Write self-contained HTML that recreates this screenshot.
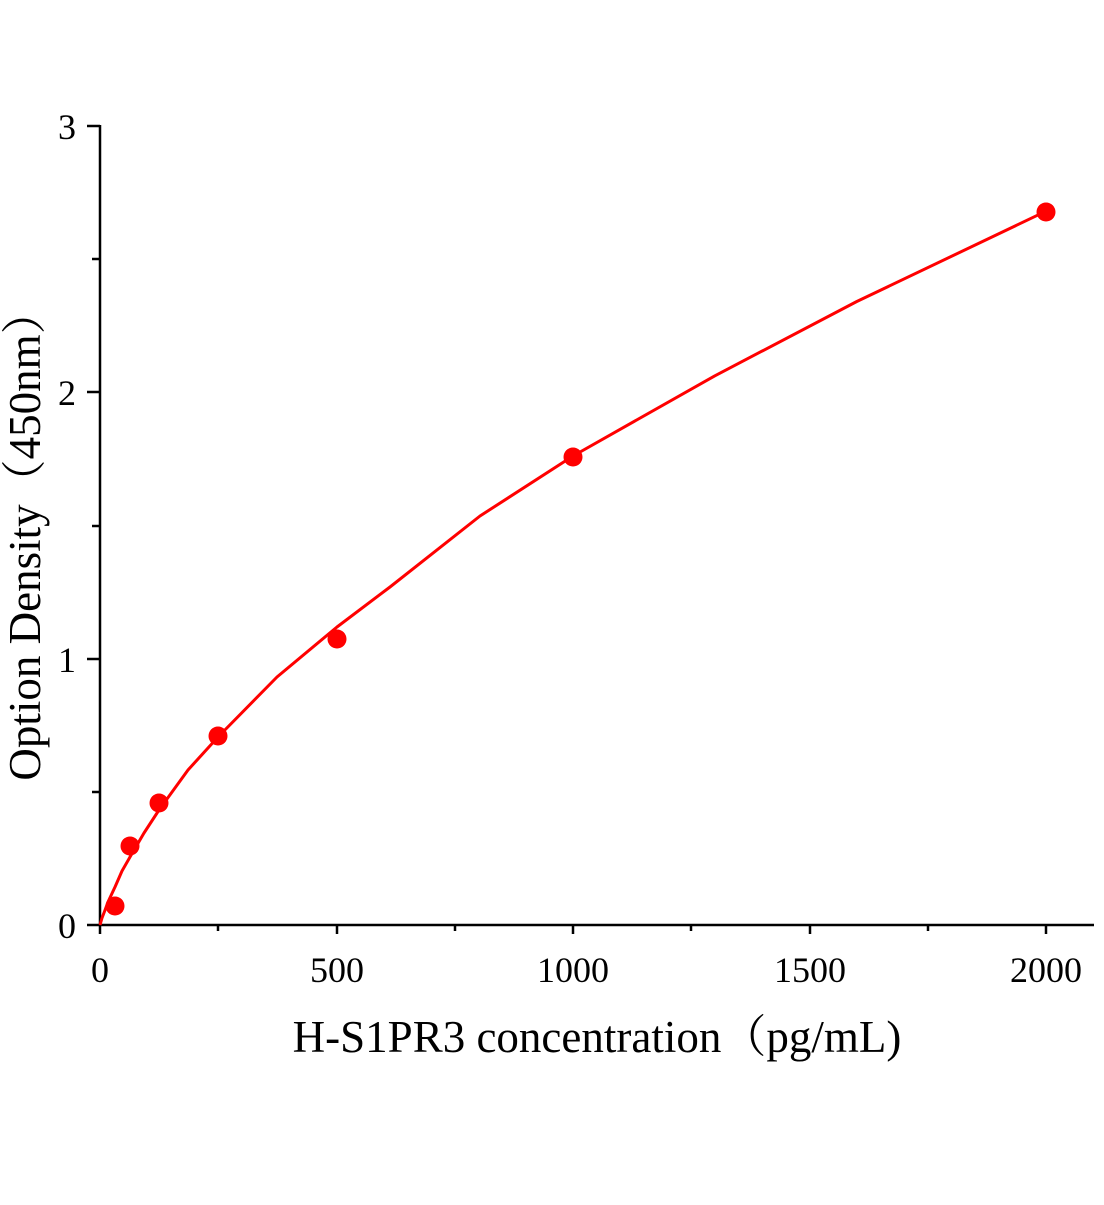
<!DOCTYPE html>
<html><head><meta charset="utf-8"><style>
html,body{margin:0;padding:0;background:#fff;}
svg text{font-family:"Liberation Serif","Noto Serif CJK SC",serif;fill:#000;}
</style></head><body>
<svg width="1104" height="1200" viewBox="0 0 1104 1200" xmlns="http://www.w3.org/2000/svg">
<g stroke="#000" stroke-width="2.5" fill="none">
<line x1="100" y1="125" x2="100" y2="926"/>
<line x1="99" y1="925" x2="1094" y2="925"/>
<line x1="87" y1="925" x2="100" y2="925"/>
<line x1="87" y1="659" x2="100" y2="659"/>
<line x1="87" y1="392" x2="100" y2="392"/>
<line x1="87" y1="126" x2="100" y2="126"/>
<line x1="92" y1="792" x2="100" y2="792"/>
<line x1="92" y1="526" x2="100" y2="526"/>
<line x1="92" y1="259" x2="100" y2="259"/>
<line x1="100" y1="925" x2="100" y2="934"/>
<line x1="337" y1="925" x2="337" y2="934"/>
<line x1="573" y1="925" x2="573" y2="934"/>
<line x1="810" y1="925" x2="810" y2="934"/>
<line x1="1046" y1="925" x2="1046" y2="934"/>
<line x1="218" y1="925" x2="218" y2="931"/>
<line x1="455" y1="925" x2="455" y2="931"/>
<line x1="691" y1="925" x2="691" y2="931"/>
<line x1="928" y1="925" x2="928" y2="931"/>
</g>
<g font-size="36" text-anchor="end">
<text x="76" y="938">0</text>
<text x="76" y="672">1</text>
<text x="76" y="405">2</text>
<text x="76" y="139">3</text>
</g>
<g font-size="36" text-anchor="middle">
<text x="100" y="982">0</text>
<text x="337" y="982">500</text>
<text x="573" y="982">1000</text>
<text x="810" y="982">1500</text>
<text x="1046" y="982">2000</text>
</g>
<text x="597" y="1052" font-size="45" text-anchor="middle">H-S1PR3 concentration（pg/mL)</text>
<text transform="translate(40,535) rotate(-90)" font-size="45" text-anchor="middle">Option Density（450nm）</text>
<polyline fill="none" stroke="#ff0000" stroke-width="3" stroke-linejoin="round" points="100,925 102,918 104.7,911 108,902 115,887 122,871 130,857 144,833 159,810 188,770 218,737 277,677 337,627 390,587 480,516 573,456 714.9,375.8 856.8,301.5 1046,211.2"/>
<g fill="#ff0000">
<circle cx="115" cy="906" r="9.5"/>
<circle cx="130" cy="846" r="9.5"/>
<circle cx="159" cy="803" r="9.5"/>
<circle cx="218" cy="736" r="9.5"/>
<circle cx="337" cy="639" r="9.5"/>
<circle cx="573" cy="457" r="9.5"/>
<circle cx="1046" cy="212" r="9.5"/>
</g>
</svg>
</body></html>
